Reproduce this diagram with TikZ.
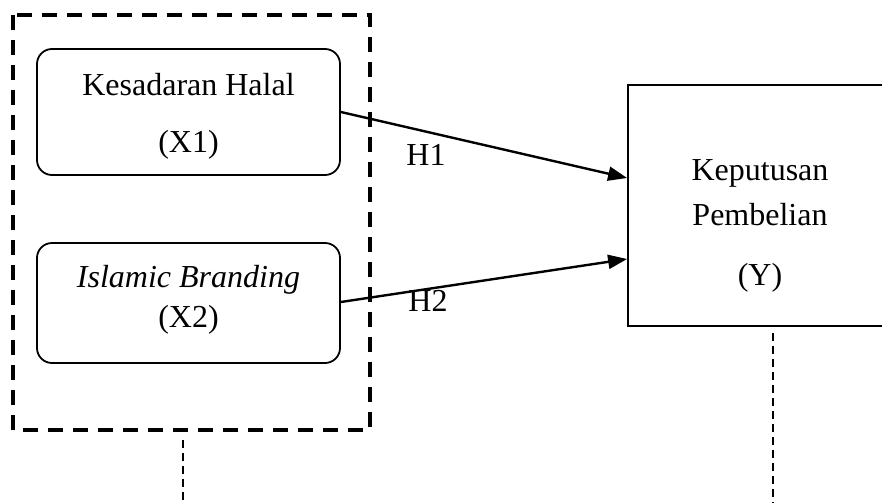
\documentclass[tikz,border=0pt]{standalone}
\usepackage{fontspec}
\setmainfont{Liberation Serif}
\usetikzlibrary{arrows.meta}
\begin{document}
\begin{tikzpicture}[x=1pt,y=-1pt,
  txt/.style={inner sep=0pt,font=\fontsize{32}{38}\selectfont},
  rbox/.style={draw,line width=1.8pt,rounded corners=15pt,inner sep=0pt},
  sbox/.style={draw,line width=1.8pt,inner sep=0pt},
  grp/.style={draw,line width=4.8pt,dash pattern=on 15pt off 10pt},
  conn/.style={line width=2.4pt,-{Triangle[length=19pt,width=14pt]}},
  guide/.style={line width=1.6pt,dash pattern=on 8pt off 5pt}]
\clip (0,0) rectangle (882,503);
\fill[white] (0,0) rectangle (882,503);
% group box
\draw[grp] (13,15) rectangle (370,430);
% boxes
\node[rbox,minimum width=303pt,minimum height=126pt] (x1) at (188.5,112) {};
\node[rbox,minimum width=303pt,minimum height=120pt] (x2) at (188.5,303) {};
\node[sbox,minimum width=264pt,minimum height=241pt] (y) at (760,205.5) {};
% texts
\node[txt] (t1a) at (188.5,85) {Kesadaran Halal};
\node[txt] (t1b) at (188.5,145) {(X1)};
\node[txt] (t2a) at (188.5,280) {\itshape Islamic Branding};
\node[txt] (t2b) at (188.5,320) {(X2)};
\node[txt] (tya) at (760,173) {Keputusan};
\node[txt] (tyb) at (760,215) {Pembelian};
\node[txt] (tyc) at (760,278) {(Y)};
% connectors
\coordinate (a1) at (x1.east |- 0,112);
\coordinate (a2) at (x2.east |- 0,302);
\coordinate (b1) at (y.west |- 0,178);
\coordinate (b2) at (y.west |- 0,259);
\draw[conn] (a1) -- (b1);
\draw[conn] (a2) -- (b2);
\node[txt] (h1) at (426,155) {H1};
\node[txt] (h2) at (428,301) {H2};
% guide lines
\coordinate (g1a) at (183,440);
\coordinate (g1b) at (183,503);
\coordinate (g2a) at (773,333);
\coordinate (g2b) at (773,503);
\draw[guide] (g1a) -- (g1b);
\draw[guide] (g2a) -- (g2b);
\end{tikzpicture}
\end{document}
